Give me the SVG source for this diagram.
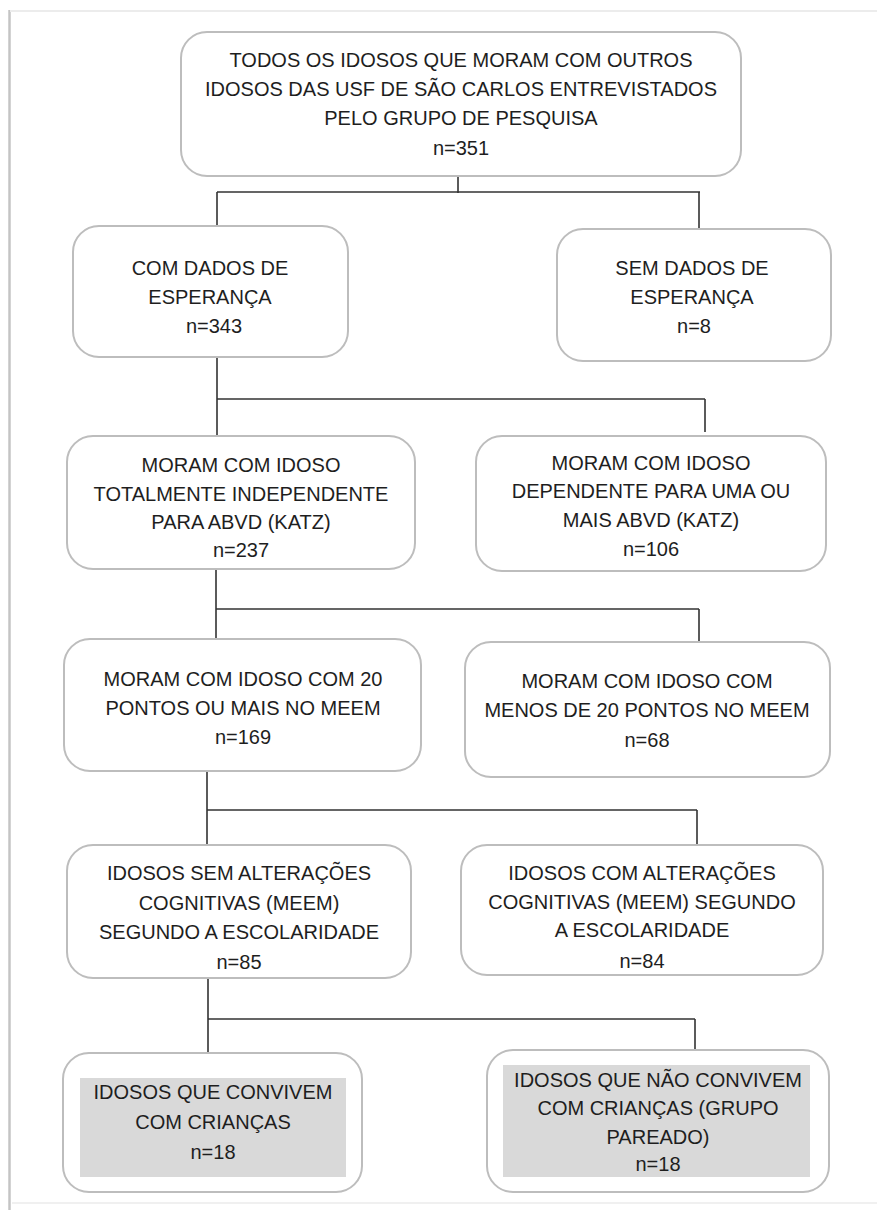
<svg xmlns="http://www.w3.org/2000/svg" width="877" height="1210" viewBox="0 0 877 1210">
<style>
.box{fill:#ffffff;stroke:#bdbdbd;stroke-width:2}
.shade{fill:#d9d9d9;stroke:none}
.t{font-family:"Liberation Sans",Arial,sans-serif;font-size:20px;fill:#1e1e1e;text-anchor:middle}
.conn{stroke:#333333;stroke-width:1.6;fill:none}
.frame{stroke:#c4c4c4;stroke-width:2.5;fill:none}
</style>
<rect x="0" y="0" width="877" height="1210" fill="#ffffff"/>
<g id="frame">
<line class="frame" x1="9.5" y1="10" x2="9.5" y2="1210"/>
<line x1="10" y1="11" x2="877" y2="11" stroke="#ececec" stroke-width="2"/>
<line x1="12" y1="1203" x2="877" y2="1203" stroke="#f0f0f0" stroke-width="2"/>
</g>
<g id="connectors">
<path class="conn" d="M458,176 V193 M217,192 H700 M217,192 V226 M699,192 V228"/>
<path class="conn" d="M217,357 V436 M217,399 H705 M705,399 V432"/>
<path class="conn" d="M216,569 V639 M216,609 H699 M699,609 V642"/>
<path class="conn" d="M207,771 V845 M207,810 H697 M697,810 V845"/>
<path class="conn" d="M208,978 V1054 M208,1019 H695 M695,1019 V1051"/>
</g>
<g id="n_all">
<rect class="box" x="181" y="32" width="560" height="144" rx="26"/>
<text class="t" x="461" y="67">TODOS OS IDOSOS QUE MORAM COM OUTROS</text>
<text class="t" x="461" y="96">IDOSOS DAS USF DE SÃO CARLOS ENTREVISTADOS</text>
<text class="t" x="461" y="125">PELO GRUPO DE PESQUISA</text>
<text class="t" x="461" y="155">n=351</text>
</g>
<g id="n_com_dados">
<rect class="box" x="73" y="226" width="275" height="131" rx="26"/>
<text class="t" x="210" y="275">COM DADOS DE</text>
<text class="t" x="210" y="304">ESPERANÇA</text>
<text class="t" x="214" y="333">n=343</text>
</g>
<g id="n_sem_dados">
<rect class="box" x="557" y="229" width="274" height="132" rx="26"/>
<text class="t" x="692" y="275">SEM DADOS DE</text>
<text class="t" x="692" y="304">ESPERANÇA</text>
<text class="t" x="694" y="333">n=8</text>
</g>
<g id="n_independente">
<rect class="box" x="67" y="436" width="348" height="133" rx="26"/>
<text class="t" x="241" y="472">MORAM COM IDOSO</text>
<text class="t" x="241" y="501">TOTALMENTE INDEPENDENTE</text>
<text class="t" x="241" y="529">PARA ABVD (KATZ)</text>
<text class="t" x="241" y="557">n=237</text>
</g>
<g id="n_dependente">
<rect class="box" x="476" y="436" width="350" height="135" rx="26"/>
<text class="t" x="651" y="470">MORAM COM IDOSO</text>
<text class="t" x="651" y="498">DEPENDENTE PARA UMA OU</text>
<text class="t" x="651" y="527">MAIS ABVD (KATZ)</text>
<text class="t" x="651" y="556">n=106</text>
</g>
<g id="n_meem20">
<rect class="box" x="64" y="639" width="357" height="132" rx="26"/>
<text class="t" x="243" y="686">MORAM COM IDOSO COM 20</text>
<text class="t" x="243" y="715">PONTOS OU MAIS NO MEEM</text>
<text class="t" x="243" y="744">n=169</text>
</g>
<g id="n_meem_menos">
<rect class="box" x="465" y="642" width="365" height="135" rx="26"/>
<text class="t" x="647" y="688">MORAM COM IDOSO COM</text>
<text class="t" x="647" y="717">MENOS DE 20 PONTOS NO MEEM</text>
<text class="t" x="647" y="747">n=68</text>
</g>
<g id="n_sem_alteracoes">
<rect class="box" x="67" y="845" width="344" height="133" rx="26"/>
<text class="t" x="239" y="880">IDOSOS SEM ALTERAÇÕES</text>
<text class="t" x="239" y="910">COGNITIVAS (MEEM)</text>
<text class="t" x="239" y="939">SEGUNDO A ESCOLARIDADE</text>
<text class="t" x="239" y="969">n=85</text>
</g>
<g id="n_com_alteracoes">
<rect class="box" x="461" y="845" width="362" height="130" rx="26"/>
<text class="t" x="642" y="880">IDOSOS COM ALTERAÇÕES</text>
<text class="t" x="642" y="909">COGNITIVAS (MEEM) SEGUNDO</text>
<text class="t" x="642" y="937">A ESCOLARIDADE</text>
<text class="t" x="642" y="968">n=84</text>
</g>
<g id="n_convivem">
<rect class="box" x="63" y="1053" width="299" height="139" rx="26"/>
<rect class="shade" x="80" y="1078" width="266" height="99"/>
<text class="t" x="213" y="1099">IDOSOS QUE CONVIVEM</text>
<text class="t" x="213" y="1129">COM CRIANÇAS</text>
<text class="t" x="213" y="1159">n=18</text>
</g>
<g id="n_nao_convivem">
<rect class="box" x="487" y="1050" width="342" height="142" rx="26"/>
<rect class="shade" x="503" y="1065" width="307" height="112"/>
<text class="t" x="658" y="1087">IDOSOS QUE NÃO CONVIVEM</text>
<text class="t" x="658" y="1115">COM CRIANÇAS (GRUPO</text>
<text class="t" x="658" y="1144">PAREADO)</text>
<text class="t" x="658" y="1171">n=18</text>
</g>
</svg>
